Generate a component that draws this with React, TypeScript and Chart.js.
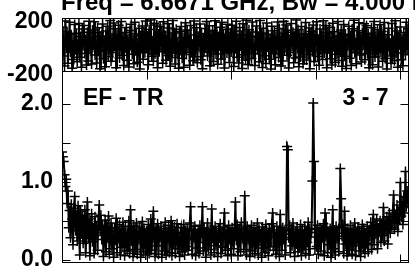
import { useEffect, useRef } from "react";
import { Chart, registerables } from "chart.js";

Chart.register(...registerables);

const titleText = "Freq = 6.6671 GHz, Bw = 4.000 MHz";
const leftLabel = "EF - TR";
const rightLabel = "3 - 7";

const channelStep = 10;
const channelMax = 4096;
const xTickValues = [1000, 2000, 3000, 4000];
const phaseTickLabels = [-200, 200];
const ampTickLabels = [0, 1, 2];
const ampTickMarks = [0, 0.5, 1, 1.5, 2];

const phase = [
  132, -87, 45, -163, 178, -21, 96, -142, 12, 167, -58, 73, -179, 28, -114, 151, -39, 84, -131, 5,
  159, -96, 61, -172, 117, -8, 143, -67, 38, -155, 92, -124, 176, -33, 54, -148, 109, -2, 171, -79,
  23, -139, 126, -51, 88, -183, 64, -17, 155, -108, 31, -167, 102, -44, 137, -92, 7, 181, -126, 49,
  -61, 163, -14, 118, -175, 76, -37, 146, -101, 19, 174, -82, 57, -158, 91, -26, 129, -119, 42, -170,
  105, -5, 152, -73, 35, -145, 168, -48, 81, -134, 14, 122, -185, 67, -29, 139, -111, 97, -63, 177,
  -18, 58, -152, 113, -41, 184, -89, 26, -127, 161, -70, 3, 148, -176, 79, -55, 134, -12, 94, -141,
  172, -35, 68, -118, 9, 157, -83, 125, -164, 41, -99, 182, -24, 86, -147, 115, -66, 17, -180, 99,
  -46, 136, -104, 52, -171, 27, 165, -76, 109, -15, 71, -156, 144, -59, 2, -122, 178, -93, 33, 127,
  -137, 62, -9, 154, -115, 83, -183, 45, -52, 120, -28, 173, -86, 11, 142, -160, 74, -39, 106, -128,
  19, 179, -71, 93, -149, 56, -3, 131, -109, 167, -44, 77, -177, 38, 116, -64, 152, -21, -135, 89,
  -57, 145, 24, -166, 101, -32, 175, -97, 48, -140, 128, -11, 69, -182, 157, -78, 14, -119, 183, 36,
  -150, 111, -26, 63, -105, 169, -67, 8, -158, 95, 140, -42, 54, -130, 181, -7, 87, -173, 123, -84,
  30, -144, 162, -19, 76, -112, 46, -185, 138, 12, -69, 104, -153, 59, -35, 170, -98, 120, -4, -162,
  84, -124, 176, -49, 21, 148, -81, 107, -178, 39, -60, 158, -13, 92, -138, 66, -101, 184, -30, 113,
  -168, 50, -94, 135, 6, -146, 81, -22, 166, -117, 44, -76, 124, -183, 15, 98, -53, 147, -129, 72,
  -6, 171, -90, 27, -157, 117, -40, 64, -113, 180, -65, 10, 143, -175, 88, -31, 130, -108, 52, -154,
  160, -17, 97, -136, 35, -73, 174, -120, 60, -47, 110, -165, 25, 151, -88, 78, -181, 42, -10, 137,
  -103, 68, -159, 119, -27, 183, -62, 16, -145, 103, -36, 164, -79, 47, -132, 90, -1, 156, -116, 29,
  141, -70, 82, -176, 55, -23, 127, -152, 18, 173, -95, 63, -41, 112, -169, 34, 150, -58, 99, -127,
  -14, 166, -106, 40, -184, 73, 122, -45, 9, -142, 158, -86, 30, -123, 179, -64, 101, -171, 57, -2,
  133, -115, 43, -160, 90, 11, -77, 168, -34, 118,
];

const amplitude = [
  1.38, 1.32, 1.26, 1.09, 0.94, 1.03, 0.72, 0.88, 0.41, 0.63, 0.28, 0.71, 0.52, 0.19, 0.66, 0.81, 0.37, 0.58, 0.24, 0.69,
  0.45, 0.06, 0.62, 0.33, 0.57, 0.21, 0.48, 0.64, 0.09, 0.39, 0.74, 0.27, 0.52, 0.05, 0.46, 0.59, 0.23, 0.41, 0.08, 0.55,
  0.31, 0.43, 0.12, 0.49, 0.7, 0.38, 0.57, 0.26, 0.44, 0.04, 0.35, 0.51, 0.1, 0.42, 0.28, 0.56, 0.07, 0.37, 0.47, 0.14,
  0.33, 0.03, 0.41, 0.25, 0.53, 0.09, 0.36, 0.29, 0.45, 0.06, 0.39, 0.16, 0.48, 0.31, 0.05, 0.43, 0.27, 0.11, 0.35, 0.5,
  0.08, 0.64, 0.24, 0.38, 0.04, 0.44, 0.3, 0.13, 0.47, 0.07, 0.36, 0.26, 0.42, 0.03, 0.33, 0.49, 0.1, 0.4, 0.28, 0.06,
  0.37, 0.15, 0.45, 0.08, 0.34, 0.52, 0.12, 0.41, 0.62, 0.27, 0.04, 0.39, 0.18, 0.46, 0.07, 0.35, 0.29, 0.43, 0.03, 0.31,
  0.4, 0.11, 0.48, 0.06, 0.36, 0.27, 0.44, 0.09, 0.32, 0.5, 0.05, 0.38, 0.2, 0.42, 0.08, 0.34, 0.46, 0.14, 0.29, 0.04,
  0.35, 0.41, 0.1, 0.27, 0.45, 0.06, 0.37, 0.17, 0.4, 0.12, 0.31, 0.47, 0.68, 0.26, 0.07, 0.39, 0.28, 0.43, 0.05, 0.33,
  0.15, 0.38, 0.08, 0.44, 0.29, 0.36, 0.68, 0.11, 0.41, 0.22, 0.03, 0.34, 0.47, 0.13, 0.3, 0.39, 0.06, 0.65, 0.27, 0.37,
  0.09, 0.43, 0.18, 0.32, 0.04, 0.4, 0.28, 0.46, 0.08, 0.35, 0.16, 0.42, 0.6, 0.12, 0.31, 0.38, 0.05, 0.44, 0.26, 0.36,
  0.07, 0.41, 0.29, 0.14, 0.37, 0.74, 0.25, 0.45, 0.05, 0.33, 0.4, 0.1, 0.48, 0.27, 0.35, 0.13, 0.82, 0.31, 0.06, 0.43,
  0.26, 0.38, 0.04, 0.34, 0.44, 0.11, 0.3, 0.41, 0.08, 0.36, 0.19, 0.47, 0.06, 0.39, 0.28, 0.33, 0.03, 0.42, 0.15, 0.37,
  0.09, 0.45, 0.27, 0.32, 0.05, 0.4, 0.17, 0.35, 0.46, 0.6, 0.12, 0.38, 0.29, 0.07, 0.43, 0.21, 0.34, 0.04, 0.58, 0.3,
  0.12, 0.41, 0.26, 0.37, 0.06, 0.33, 1.45, 1.41, 0.28, 0.44, 0.09, 0.39, 0.18, 0.47, 0.31, 0.04, 0.36, 0.2, 0.42, 0.1,
  0.34, 0.16, 0.45, 0.05, 0.38, 0.13, 0.31, 0.43, 0.08, 0.36, 0.22, 0.48, 0.06, 0.4, 0.29, 0.35, 1.01, 2.01, 1.26, 0.14,
  0.39, 0.17, 0.44, 0.07, 0.33, 0.41, 0.11, 0.37, 0.28, 0.46, 0.05, 0.6, 0.3, 0.42, 0.09, 0.35, 0.19, 0.4, 0.03, 0.32,
  0.64, 0.14, 0.38, 0.06, 0.43, 0.27, 0.34, 0.1, 0.41, 1.17, 0.78, 0.3, 0.45, 0.08, 0.62, 0.2, 0.36, 0.05, 0.4, 0.29,
  0.12, 0.44, 0.33, 0.07, 0.39, 0.18, 0.47, 0.05, 0.35, 0.28, 0.42, 0.11, 0.37, 0.04, 0.31, 0.45, 0.15, 0.4, 0.08, 0.34,
  0.21, 0.43, 0.1, 0.38, 0.3, 0.48, 0.13, 0.41, 0.58, 0.19, 0.45, 0.33, 0.52, 0.14, 0.4, 0.36, 0.5, 0.22, 0.46, 0.31,
  0.67, 0.24, 0.49, 0.37, 0.55, 0.2, 0.44, 0.6, 0.34, 0.52, 0.41, 0.63, 0.83, 0.39, 0.58, 0.47, 0.7, 0.36, 0.62, 0.51,
  0.99, 0.56, 0.74, 0.45, 0.81, 0.6, 1.13, 0.68, 0.88, 0.72,
];

const FONT_FAMILY = '"Liberation Sans", Arial, sans-serif';

function drawFrame(chart: any, yMarks: number[]) {
  const { ctx, chartArea: a, scales } = chart;
  const xs = scales.x;
  const ys = scales.y;
  ctx.save();
  ctx.strokeStyle = "#000";
  ctx.lineWidth = 1;
  const l = Math.round(a.left) + 0.5;
  const t = Math.round(a.top) + 0.5;
  const r = Math.round(a.right) - 0.5;
  const b = Math.round(a.bottom) + 0.5;
  ctx.strokeRect(l, t, r - l, b - t);
  const tl = 8;
  ctx.beginPath();
  xTickValues.forEach((v) => {
    const px = Math.round(xs.getPixelForValue(v)) + 0.5;
    ctx.moveTo(px, t);
    ctx.lineTo(px, t + tl);
    ctx.moveTo(px, b);
    ctx.lineTo(px, b - tl);
  });
  yMarks.forEach((v) => {
    const py = Math.round(ys.getPixelForValue(v)) + 0.5;
    ctx.moveTo(l, py);
    ctx.lineTo(l + tl, py);
    ctx.moveTo(r, py);
    ctx.lineTo(r - tl, py);
  });
  ctx.stroke();
  ctx.restore();
}

function makeOptions(
  yMin: number,
  yMax: number,
  tickVals: number[],
  padTop: number,
  padBottom: number,
  labelOffset: number,
  fmt: (v: number) => string
): any {
  return {
    responsive: false,
    animation: false,
    events: [],
    layout: { padding: { top: padTop, bottom: padBottom, left: 0, right: 1 } },
    plugins: { legend: { display: false }, tooltip: { enabled: false }, title: { display: false } },
    scales: {
      x: { type: "linear", min: 0, max: channelMax, display: false },
      y: {
        type: "linear",
        min: yMin,
        max: yMax,
        grid: { display: false, drawTicks: false },
        border: { display: false },
        afterBuildTicks: (s: any) => {
          s.ticks = tickVals.map((v) => ({ value: v }));
        },
        afterFit: (s: any) => {
          s.width = 62;
          s.paddingTop = 0;
          s.paddingBottom = 0;
        },
        ticks: {
          autoSkip: false,
          padding: 9,
          color: "#000",
          labelOffset,
          font: { family: FONT_FAMILY, size: 23, weight: "bold" },
          callback: (v: any) => fmt(Number(v)),
        },
      },
    },
  };
}

function seriesDataset(values: number[]) {
  return {
    data: values.map((v, i) => ({ x: i * channelStep, y: v })),
    borderColor: "#000",
    borderWidth: 2,
    pointStyle: "cross",
    pointRadius: 5,
    pointBorderWidth: 1.5,
    pointBorderColor: "#000",
    pointBackgroundColor: "#000",
    fill: false,
    tension: 0,
  };
}

export default function App() {
  const topRef = useRef<HTMLCanvasElement>(null);
  const botRef = useRef<HTMLCanvasElement>(null);

  useEffect(() => {
    const topChart = new Chart(topRef.current as HTMLCanvasElement, {
      type: "line",
      data: { datasets: [seriesDataset(phase) as any] },
      options: makeOptions(-200, 200, phaseTickLabels, 18, 200, 4, (v) => String(v)),
      plugins: [
        {
          id: "frameTop",
          afterDraw: (chart: any) => {
            drawFrame(chart, []);
            const { ctx, chartArea: a } = chart;
            ctx.save();
            ctx.fillStyle = "#000";
            ctx.font = `bold 24px ${FONT_FAMILY}`;
            ctx.textAlign = "left";
            ctx.textBaseline = "alphabetic";
            ctx.fillText(titleText, a.left - 1, 10);
            ctx.restore();
          },
        },
      ],
    });

    const botChart = new Chart(botRef.current as HTMLCanvasElement, {
      type: "line",
      data: { datasets: [seriesDataset(amplitude) as any] },
      options: makeOptions(-0.03, 2.42, ampTickLabels, 71, 9, 0, (v) => v.toFixed(1)),
      plugins: [
        {
          id: "frameBottom",
          afterDraw: (chart: any) => {
            drawFrame(chart, ampTickMarks);
            const { ctx, chartArea: a } = chart;
            ctx.save();
            ctx.fillStyle = "#000";
            ctx.font = `bold 23px ${FONT_FAMILY}`;
            ctx.textBaseline = "alphabetic";
            ctx.textAlign = "left";
            ctx.fillText(leftLabel, a.left + 21, a.top + 34);
            ctx.textAlign = "right";
            ctx.fillText(rightLabel, a.right - 20, a.top + 34);
            ctx.restore();
          },
        },
      ],
    });

    return () => {
      topChart.destroy();
      botChart.destroy();
    };
  }, []);

  return (
    <div
      style={{
        position: "fixed",
        left: 0,
        top: 0,
        width: 415,
        height: 271,
        background: "#fff",
        overflow: "hidden",
      }}
    >
      <canvas
        ref={topRef}
        width={415}
        height={271}
        style={{ position: "absolute", left: 0, top: 0, width: 415, height: 271 }}
      />
      <canvas
        ref={botRef}
        width={415}
        height={271}
        style={{ position: "absolute", left: 0, top: 0, width: 415, height: 271 }}
      />
    </div>
  );
}
